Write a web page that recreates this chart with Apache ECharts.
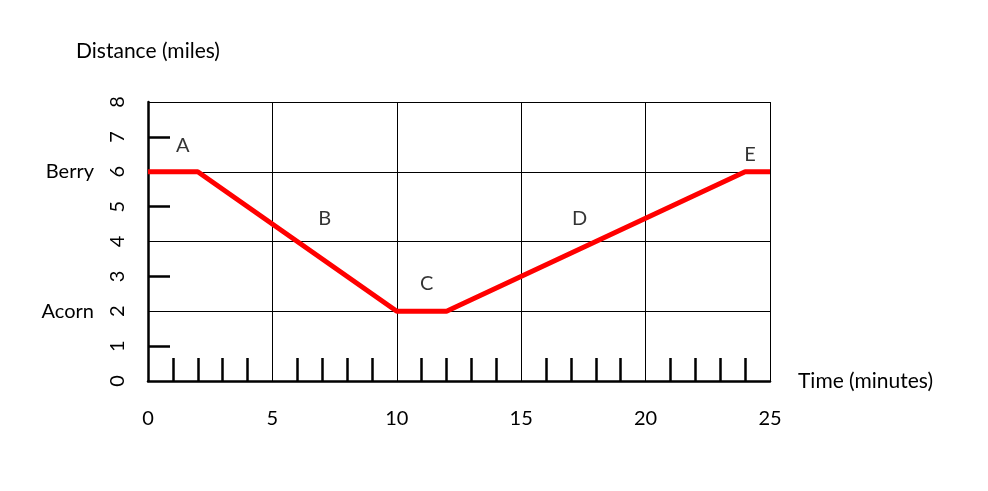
<!DOCTYPE html>
<html><head><meta charset="utf-8">
<script src="https://cdn.jsdelivr.net/npm/echarts@6/dist/echarts.min.js"></script>
<style>html,body{margin:0;padding:0;background:#fff}#c{width:988px;height:491px}</style>
</head><body><div id="c"></div>
<script>
const timeMin = [0, 2, 10, 12, 24, 25];
const distance = [6, 6, 2, 2, 6, 6];
const segLabels = ['A', 'B', 'C', 'D', 'E'];
const segLabelX = [1.4, 7.1, 11.2, 17.35, 24.2];
const segLabelY = [6.75, 4.65, 2.8, 4.65, 6.5];
const xTicks = [0, 5, 10, 15, 20, 25];
const yTicks = [0, 1, 2, 3, 4, 5, 6, 7, 8];
const placeValues = [2, 6];
const placeNames = ['Acorn', 'Berry'];

const font = 'Lato, "Open Sans", sans-serif';
const chart = echarts.init(document.getElementById('c'));
chart.setOption({
  animation: false,
  grid: { left: 148, right: 218, top: 102, bottom: 110 },
  xAxis: {
    type: 'value', min: 0, max: 25, interval: 5,
    name: 'Time (minutes)', nameLocation: 'end', nameGap: 28,
    nameTextStyle: { fontFamily: font, fontSize: 21, color: '#000', padding: [6, 0, 0, 0] },
    axisLine: { show: true, lineStyle: { color: '#000', width: 2.5 } },
    axisTick: { show: false, inside: true },
    minorTick: { show: true, splitNumber: 5, length: 23, lineStyle: { color: '#000', width: 2.5 } },
    splitLine: { show: true, lineStyle: { color: '#000', width: 1 } },
    axisLabel: { margin: 28, fontFamily: font, fontSize: 20, color: '#000',
      formatter: v => xTicks.includes(v) ? String(v) : '' }
  },
  yAxis: [{
    type: 'value', min: 0, max: 8, interval: 2,
    name: 'Distance (miles)', nameLocation: 'end', nameGap: 40,
    nameTextStyle: { fontFamily: font, fontSize: 21, color: '#000', align: 'center' },
    axisLine: { show: true, lineStyle: { color: '#000', width: 2.5 } },
    axisTick: { show: false, inside: true },
    minorTick: { show: true, splitNumber: 2, length: 22, lineStyle: { color: '#000', width: 2.5 } },
    splitLine: { show: true, lineStyle: { color: '#000', width: 1 } },
    axisLabel: { margin: 54, fontFamily: font, fontSize: 20, color: '#000',
      formatter: v => { const i = placeValues.indexOf(v); return i >= 0 ? placeNames[i] : ''; } }
  }, {
    type: 'value', min: 0, max: 8, interval: 1, position: 'left',
    axisLine: { show: false }, axisTick: { show: false }, splitLine: { show: false },
    axisLabel: { rotate: 90, margin: 20, fontFamily: font, fontSize: 20, color: '#000',
      formatter: v => yTicks.includes(v) ? String(v) : '' }
  }],
  series: [{
    type: 'line', yAxisIndex: 0,
    data: timeMin.map((t, i) => [t, distance[i]]),
    symbol: 'none', lineStyle: { color: '#ff0000', width: 5 }, z: 5
  }, {
    type: 'scatter', yAxisIndex: 0,
    data: segLabelX.map((x, i) => [x, segLabelY[i], segLabels[i]]),
    symbolSize: 2, itemStyle: { color: 'rgba(0,0,0,0)' },
    label: { show: true, position: 'inside', formatter: p => p.data[2],
      fontFamily: font, fontSize: 20, color: '#000', textBorderWidth: 0 }
  }]
});
</script></body></html>
